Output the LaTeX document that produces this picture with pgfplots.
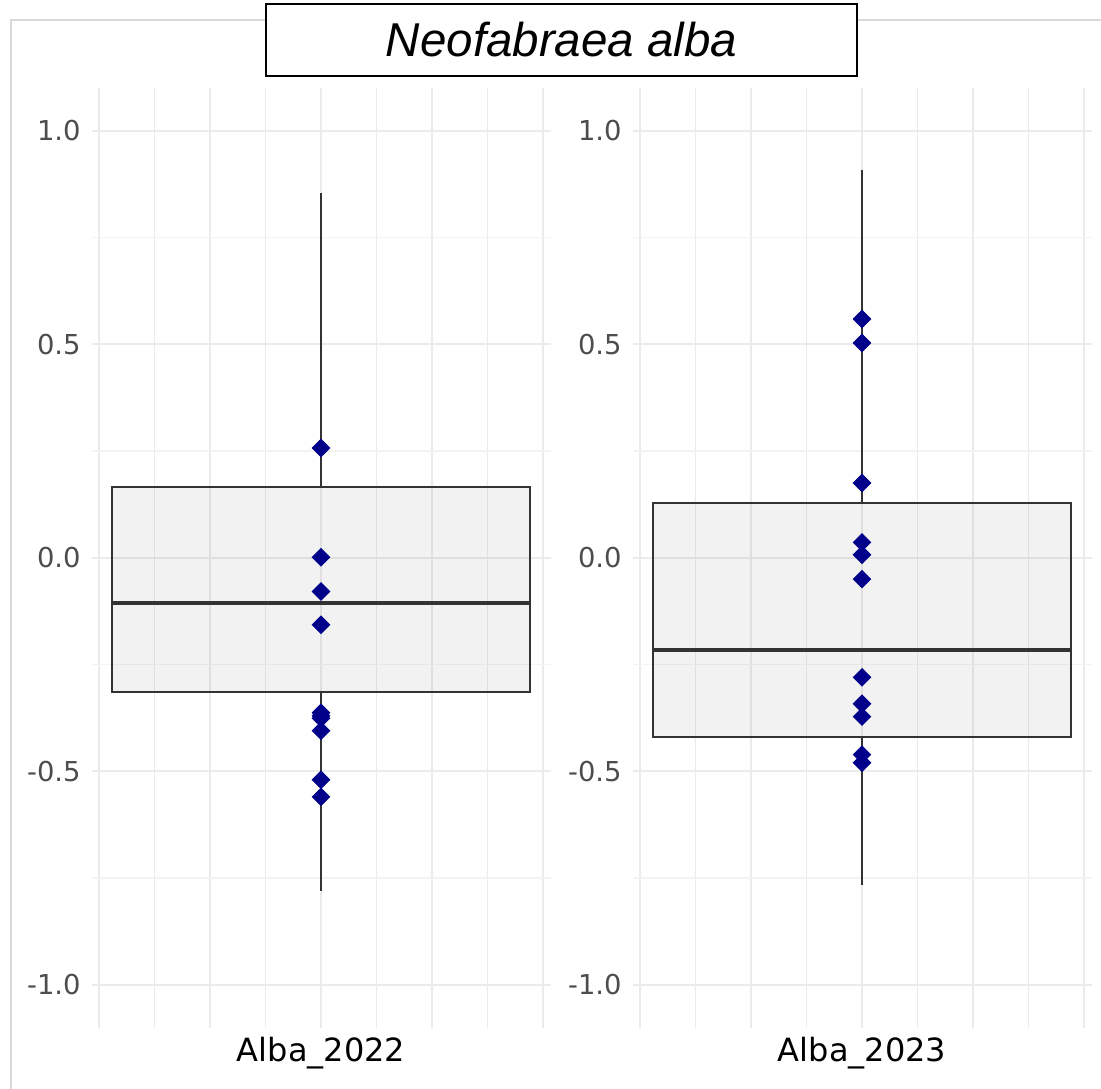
\documentclass[border=0pt]{standalone}
\usepackage{fontspec}
\setmainfont{DejaVu Sans}
\newfontfamily\titlefont{Liberation Sans}
\usepackage{pgfplots}
\usepackage{pgfplotstable}
\pgfplotsset{compat=1.18}
\usepgfplotslibrary{statistics}

\definecolor{gridmaj}{RGB}{235,235,235}
\definecolor{gridmin}{RGB}{243,243,243}
\definecolor{boxline}{RGB}{51,51,51}
\definecolor{ptblue}{RGB}{0,0,139}
\definecolor{ticktext}{RGB}{77,77,77}
\definecolor{framegray}{RGB}{217,217,217}

% individual values per year
\pgfplotstableread{
x y
0 0.257
0 0.001
0 -0.079
0 -0.157
0 -0.363
0 -0.370
0 -0.376
0 -0.405
0 -0.520
0 -0.560
}\ptsA

\pgfplotstableread{
x y
0 0.559
0 0.503
0 0.175
0 0.036
0 0.007
0 -0.050
0 -0.280
0 -0.342
0 -0.372
0 -0.461
0 -0.480
}\ptsB

\pgfplotsset{
  panel/.style={
    scale only axis, width=229.5pt, height=469.75pt,
    anchor=south west,
    xmin=-4.135, xmax=4.135, ymin=-1.1, ymax=1.1,
    axis line style={draw=none},
    major tick length=0pt, minor tick length=0pt,
    xtick={-4,-3,-2,-1,0,1,2,3,4},
    xticklabels={,,,,#1,,,,},
    ytick={-1,-0.5,0,0.5,1},
    yticklabels={-1.0,-0.5,0.0,0.5,1.0},
    minor ytick={-0.75,-0.25,0.25,0.75},
    xmajorgrids, ymajorgrids, yminorgrids,
    major x grid style={gridmaj, line width=0.8pt},
    major y grid style={gridmaj, line width=1pt},
    minor y grid style={gridmin, line width=0.8pt},
    yticklabel style={font=\fontsize{13.7}{16}\selectfont, text=ticktext,
      anchor=east, inner sep=0pt, xshift=-5.25pt},
    xticklabel style={font=\fontsize{16}{19}\selectfont, text=black,
      anchor=north, inner sep=0pt, yshift=-4.75pt},
    boxplot/draw direction=y,
    boxplot/every median/.style={line width=2pt},
  },
  gbox/.style={draw=boxline, line width=1pt, fill=black, fill opacity=0.05},
  pts/.style={only marks, color=ptblue, mark=square*, mark size=3.1pt,
    mark options={rotate=45, fill=ptblue, draw=none, fill opacity=1}},
}

\begin{document}
\begin{tikzpicture}
\path[use as bounding box] (0,0) rectangle (550.5pt,544pt);
\clip (0,0) rectangle (550.5pt,544pt);

% outer frame
\draw[framegray, line width=1pt] (5.5pt,-5pt) -- (5.5pt,534pt) -- (560pt,534pt);

\begin{axis}[panel={Alba\_2022}, at={(45.75pt,30.25pt)}]
  \addplot[gbox, boxplot prepared={draw position=0,
      median=-0.107, lower quartile=-0.315, upper quartile=0.165,
      lower whisker=-0.780, upper whisker=0.855,
      box extend=7.54, whisker extend=0}] coordinates {};
  \addplot[pts] table[x=x, y=y] {\ptsA};
\end{axis}

\begin{axis}[panel={Alba\_2023}, at={(316.25pt,30.25pt)}]
  \addplot[gbox, boxplot prepared={draw position=0,
      median=-0.215, lower quartile=-0.419, upper quartile=0.128,
      lower whisker=-0.766, upper whisker=0.909,
      box extend=7.54, whisker extend=0}] coordinates {};
  \addplot[pts] table[x=x, y=y] {\ptsB};
\end{axis}

% facet strip title
\node[draw=black, line width=1.2pt, fill=white, minimum width=295.3pt,
  minimum height=35.8pt, inner sep=0pt] at (280.75pt,524pt)
  {\titlefont\itshape\fontsize{23.75}{28}\selectfont Neofabraea alba};
\end{tikzpicture}
\end{document}
